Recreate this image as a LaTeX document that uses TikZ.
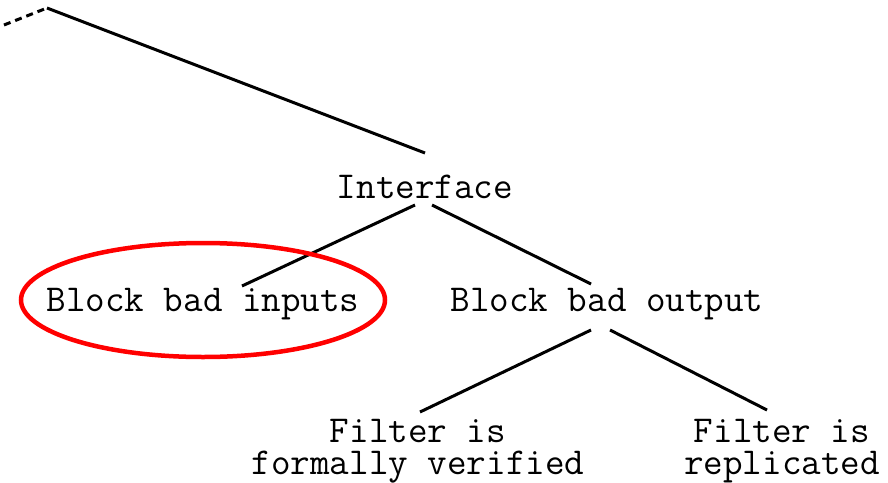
\documentclass[tikz,border=0pt]{standalone}
\begin{document}
\begin{tikzpicture}[x=1pt,y=-1pt,
  label/.style={font=\ttfamily\fontsize{38}{32}\selectfont, inner sep=0pt, anchor=base, align=center},
  branch/.style={line width=3pt, black},
  ring/.style={line width=4.5pt, red}]
\useasboundingbox (0,0) rectangle (888,482);

% tree labels (base anchor = baseline of the last line)
\node[label] (iface) at (425,198) {Interface};
\node[label] (inputs) at (203,311) {Block bad inputs};
\node[label] (output) at (607,311) {Block bad output};
\node[label] (verified) at (418,474) {Filter is\\formally verified};
\node[label] (replic) at (782,474) {Filter is\\replicated};

% branch end points
\coordinate (parent) at (47,8);
\coordinate (farleft) at (4,25);

% branches
\draw[branch, dashed, dash pattern=on 7pt off 5pt] (farleft) -- (parent);
\draw[branch] (parent) -- ([yshift=45pt]iface.base);
\draw[branch] ([xshift=-10pt,yshift=-7pt]iface.base) -- ([xshift=39pt,yshift=25pt]inputs.base);
\draw[branch] ([xshift=7pt,yshift=-7pt]iface.base) -- ([xshift=-16pt,yshift=27pt]output.base);
\draw[branch] ([xshift=-16pt,yshift=-19pt]output.base) -- ([xshift=2pt,yshift=62pt]verified.base);
\draw[branch] ([xshift=3pt,yshift=-19pt]output.base) -- ([xshift=-15pt,yshift=64pt]replic.base);

% highlight around the left branch
\draw[ring] ([yshift=11pt]inputs.base) ellipse [x radius=182, y radius=57];
\end{tikzpicture}
\end{document}
